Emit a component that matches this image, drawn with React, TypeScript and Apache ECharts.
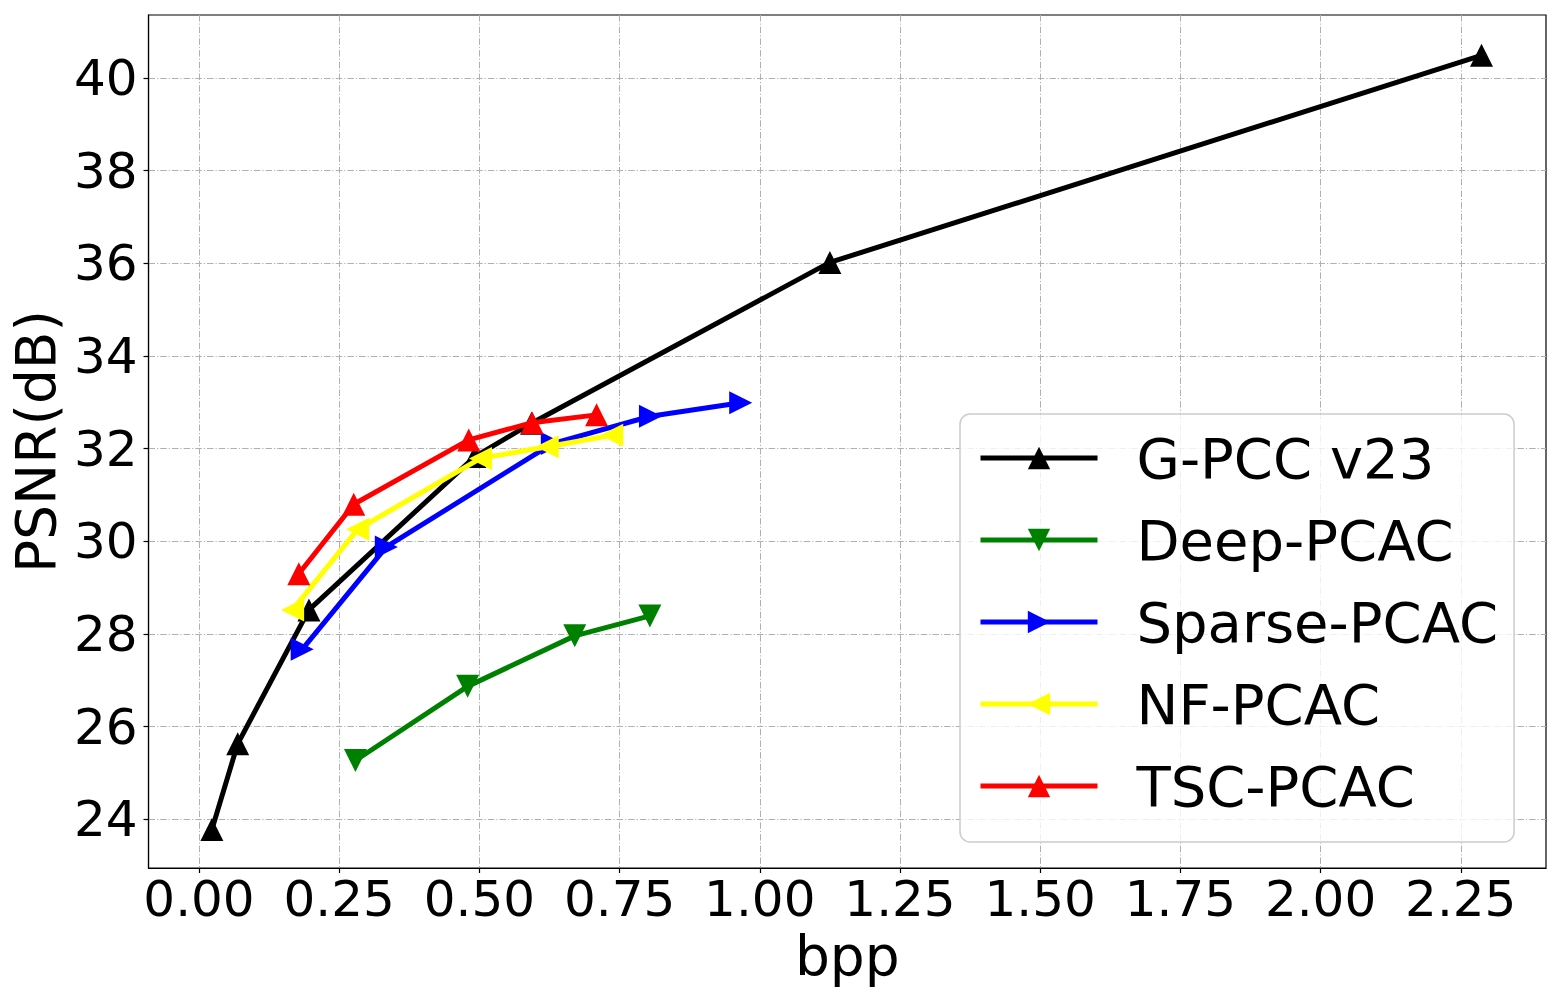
import React, { useEffect, useRef } from "react";
import * as echarts from "echarts";

const seriesNames = ["G-PCC v23", "Deep-PCAC", "Sparse-PCAC", "NF-PCAC", "TSC-PCAC"];
const seriesColors = ["#000000", "#008000", "#0000ff", "#ffff00", "#ff0000"];

const gpccData = [
  [0.023, 23.78],
  [0.069, 25.63],
  [0.196, 28.52],
  [0.492, 31.83],
  [0.593, 32.55],
  [1.125, 36.02],
  [2.287, 40.49],
];
const deepData = [
  [0.279, 25.27],
  [0.479, 26.87],
  [0.670, 27.96],
  [0.804, 28.39],
];
const sparseData = [
  [0.184, 27.67],
  [0.334, 29.88],
  [0.630, 32.11],
  [0.805, 32.70],
  [0.966, 32.99],
];
const nfData = [
  [0.167, 28.52],
  [0.283, 30.26],
  [0.502, 31.79],
  [0.621, 32.04],
  [0.736, 32.29],
];
const tscData = [
  [0.178, 29.30],
  [0.276, 30.80],
  [0.481, 32.19],
  [0.594, 32.56],
  [0.709, 32.73],
];

const xTicks = [0, 0.25, 0.5, 0.75, 1.0, 1.25, 1.5, 1.75, 2.0, 2.25];
const yTicks = [24, 26, 28, 30, 32, 34, 36, 38, 40];

const SYM_UP = "path://M1,0L2,2L0,2Z";
const SYM_DOWN = "path://M0,0L2,0L1,2Z";
const SYM_RIGHT = "path://M0,0L2,1L0,2Z";
const SYM_LEFT = "path://M2,0L0,1L2,2Z";
const seriesSymbols = [SYM_UP, SYM_DOWN, SYM_RIGHT, SYM_LEFT, SYM_UP];
const seriesData = [gpccData, deepData, sparseData, nfData, tscData];

const FONT = "DejaVu Sans";
const gridLine = {
  show: true,
  lineStyle: { color: "#b0b0b0", width: 1, type: [6.5, 2, 1.2, 2] },
};

export default function App() {
  const ref = useRef<HTMLDivElement>(null);
  useEffect(() => {
    document.body.style.margin = "0";
    if (!ref.current) return;
    const chart = echarts.init(ref.current, undefined, { renderer: "svg" });
    const option = {
      animation: false,
      backgroundColor: "#ffffff",
      textStyle: { fontFamily: FONT },
      grid: {
        left: 148,
        right: 14,
        top: 15,
        bottom: 132,
        show: true,
        borderColor: "#000000",
        borderWidth: 1.2,
        backgroundColor: "transparent",
      },
      xAxis: {
        type: "value",
        min: -0.09,
        max: 2.402,
        name: "bpp",
        nameLocation: "middle",
        nameGap: 57,
        nameTextStyle: { fontSize: 55, color: "#000", fontFamily: FONT },
        axisLine: { show: true, onZero: false, lineStyle: { color: "#000", width: 1.2 } },
        axisTick: { show: true, inside: false, length: 5, customValues: xTicks, lineStyle: { color: "#000", width: 1.2 } },
        axisLabel: {
          customValues: xTicks,
          fontSize: 50,
          color: "#000",
          fontFamily: FONT,
          margin: 6,
          formatter: (v: number) => v.toFixed(2),
        },
        splitLine: gridLine,
      },
      yAxis: {
        type: "value",
        min: 22.95,
        max: 41.36,
        name: "PSNR(dB)",
        nameLocation: "middle",
        nameRotate: 90,
        nameGap: 70,
        nameTextStyle: { fontSize: 55, color: "#000", fontFamily: FONT },
        axisLine: { show: true, onZero: false, lineStyle: { color: "#000", width: 1.2 } },
        axisTick: { show: true, inside: false, length: 5, customValues: yTicks, lineStyle: { color: "#000", width: 1.2 } },
        axisLabel: {
          customValues: yTicks,
          fontSize: 50,
          color: "#000",
          fontFamily: FONT,
          margin: 11,
        },
        splitLine: gridLine,
      },
      legend: {
        orient: "vertical",
        left: 960,
        top: 414,
        itemWidth: 117,
        itemHeight: 28,
        itemGap: 26,
        padding: [16, 16, 28, 18],
        backgroundColor: "rgba(255,255,255,0.8)",
        borderColor: "#cccccc",
        borderWidth: 1.5,
        borderRadius: 10,
        lineStyle: { width: 5 },
        textStyle: { fontSize: 56, color: "#000", fontFamily: FONT, padding: [0, 0, 0, 34] },
        data: seriesNames,
      },
      series: seriesNames.map((name, i) => ({
        name,
        type: "line",
        data: seriesData[i],
        symbol: seriesSymbols[i],
        symbolSize: 23,
        showAllSymbol: true,
        color: seriesColors[i],
        lineStyle: { color: seriesColors[i], width: 5 },
        itemStyle: { color: seriesColors[i] },
        emphasis: { disabled: true },
        z: 2 + i,
      })),
    };
    chart.setOption(option as any);
    return () => chart.dispose();
  }, []);
  return <div ref={ref} style={{ width: 1560, height: 1000 }} />;
}
